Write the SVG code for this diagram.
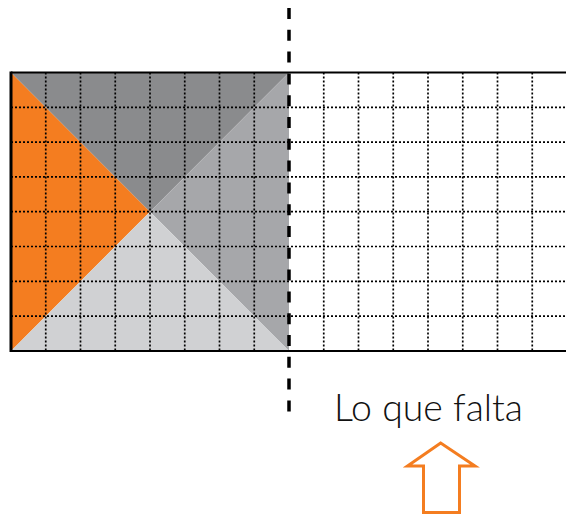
<svg xmlns="http://www.w3.org/2000/svg" width="566" height="518" viewBox="0 0 566 518">
<style>
.grid{stroke:#000;stroke-width:1.7;stroke-dasharray:2 2;fill:none}
.border{stroke:#000;stroke-width:2.2;fill:none}
</style>
<rect width="566" height="518" fill="#fff"/>
<g id="square">
<polygon points="11,72.5 150,211.7 11,351" fill="#f47d20"/>
<polygon points="11,72.5 289,72.5 150,211.7" fill="#8a8b8d"/>
<polygon points="289,72.5 289,351 150,211.7" fill="#a6a7aa"/>
<polygon points="11,351 289,351 150,211.7" fill="#d0d1d3"/>
</g>
<g id="grid">
<path class="grid" d="M45.75,72.5V351M80.5,72.5V351M115.25,72.5V351M150,72.5V351M184.75,72.5V351M219.5,72.5V351M254.25,72.5V351M323.75,72.5V351M358.5,72.5V351M393.25,72.5V351M428,72.5V351M462.75,72.5V351M497.5,72.5V351M532.25,72.5V351"/>
<path class="grid" d="M11,107.3H566M11,142.1H566M11,176.9H566M11,211.7H566M11,246.5H566M11,281.3H566M11,316.1H566"/>
<path class="border" d="M11,72.5H566M11,351H566"/>
<path d="M11,71.5V352" stroke="#000" stroke-width="3"/>
</g>
<g id="divider">
<line x1="289" y1="8" x2="289" y2="412" stroke="#000" stroke-width="3.5" stroke-dasharray="11 10.8"/>
</g>
<g id="label">
<text x="334" y="421" font-family="Lato, 'Open Sans', sans-serif" font-weight="300" font-size="37" fill="#111" textLength="189" lengthAdjust="spacingAndGlyphs">Lo que falta</text>
</g>
<g id="arrow">
<polygon points="440.7,443 407.5,466 423.5,466 423.5,512.5 459.5,512.5 459.5,466 475,466" fill="none" stroke="#f47d20" stroke-width="3"/>
</g>
</svg>
